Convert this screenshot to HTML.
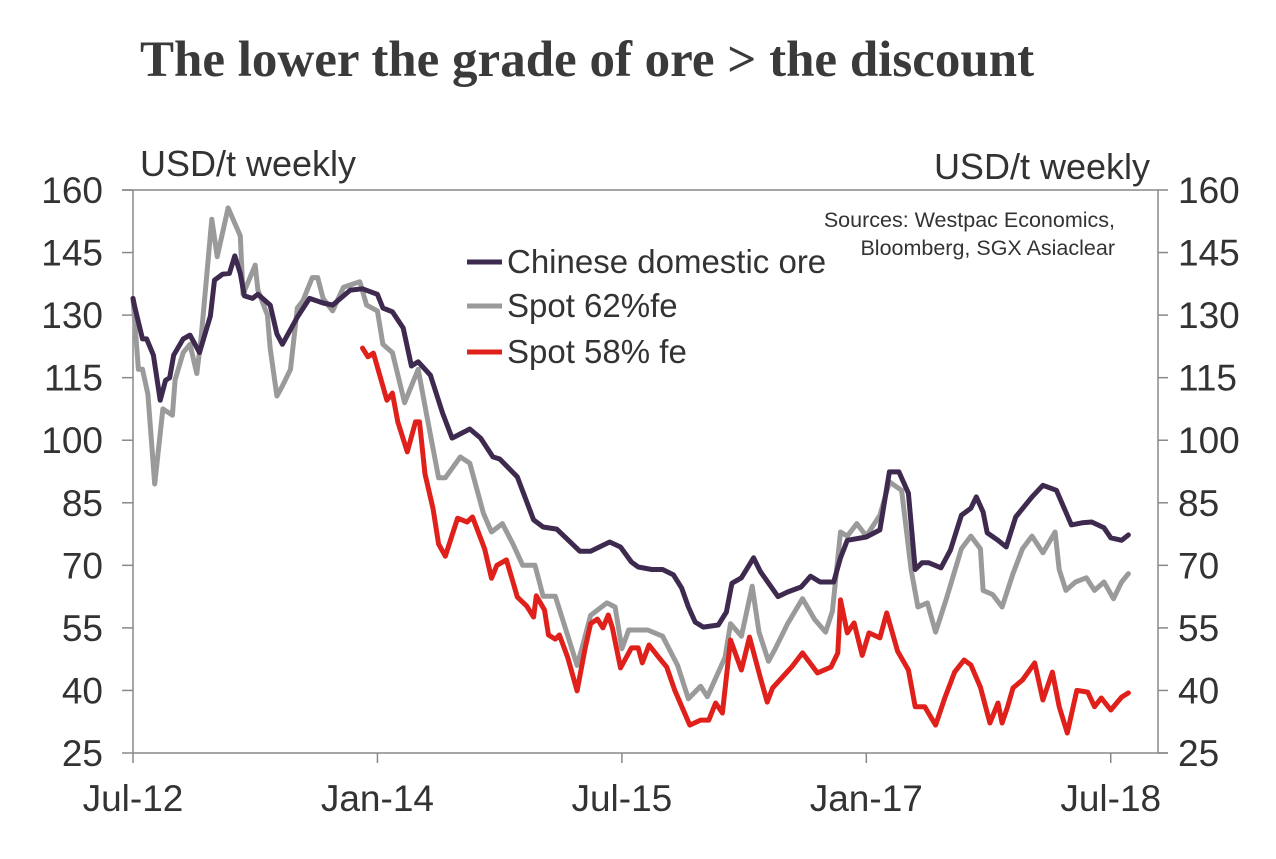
<!DOCTYPE html>
<html><head><meta charset="utf-8">
<style>
html,body{margin:0;padding:0;background:#fff;}
body{width:1276px;height:854px;overflow:hidden;}
svg text{font-family:"Liberation Sans",sans-serif;fill:#333;}
</style></head>
<body>
<svg id="chart" width="1276" height="854">
<text x="587" y="76" text-anchor="middle" style="font-family:'Liberation Serif',serif;font-weight:bold;font-size:51px;fill:#3a3a3a">The lower the grade of ore &gt; the discount</text>
<text x="140" y="176" style="font-size:36px">USD/t weekly</text>
<text x="1150" y="179" text-anchor="end" style="font-size:36px">USD/t weekly</text>
<text x="1115" y="227" text-anchor="end" style="font-size:21.5px">Sources: Westpac Economics,</text>
<text x="1115" y="255" text-anchor="end" style="font-size:21.5px">Bloomberg, SGX Asiaclear</text>
<g id="axes"></g>
<g id="series"></g>
<g>
 <g><line x1="467" y1="262" x2="502" y2="262" stroke="#3f2a4f" stroke-width="5"/><text x="507" y="273" style="font-size:33px">Chinese domestic ore</text></g>
 <g><line x1="467" y1="306" x2="502" y2="306" stroke="#9a9a9a" stroke-width="5"/><text x="507" y="317" style="font-size:33px">Spot 62%fe</text></g>
 <g><line x1="467" y1="352" x2="502" y2="352" stroke="#e0201b" stroke-width="5"/><text x="507" y="363" style="font-size:33px">Spot 58% fe</text></g>
</g>
</svg>
<script>
// months since Jul-2012 and values (USD/t)
const yTicks=[25,40,55,70,85,100,115,130,145,160];
const xTickLabels=["Jul-12","Jan-14","Jul-15","Jan-17","Jul-18"];
const xTickMonths=[0,18,36,54,72];
const chinaT=[0,0.15,0.7,1.0,1.5,2.0,2.4,2.7,3.0,3.7,4.2,4.9,5.7,6.0,6.6,7.1,7.5,7.9,8.2,8.8,9.2,10.1,10.6,11.0,11.3,12.1,13.0,14.0,14.7,16.0,16.9,18.0,18.4,19.1,19.9,20.5,21.0,21.9,22.8,23.5,24.8,25.6,26.5,27.0,28.3,29.5,30.2,31.2,32.9,33.7,35.1,35.9,36.7,37.2,38.2,39.0,39.8,40.4,40.9,41.4,42.0,43.1,43.7,44.1,44.8,45.7,46.2,47.5,48.2,49.2,49.9,50.6,51.6,52.1,52.6,54.0,55.0,55.7,56.4,57.1,57.6,58.1,58.6,59.5,60.2,61.0,61.7,62.1,62.6,62.9,63.7,64.3,65.0,66.2,67.0,68.0,69.1,69.9,70.6,71.5,72.0,72.8,73.3];
const chinaV=[134,131.7,124.3,124.3,120.4,109.6,114.4,115,120.4,124.3,125.2,121,129.8,138.4,139.8,140,144.2,140,134.6,134,135,132.4,125.5,123,124.8,129.5,134,132.9,132.4,136,136.3,135,131.7,130.8,126.9,117.8,118.8,115.6,106.5,100.5,102.7,100.5,96,95.5,91.2,80.9,79.2,78.7,73.4,73.4,75.6,74.4,70.8,69.6,69,69,67.7,64.6,60,56.4,55.2,55.7,58.8,65.7,67,71.8,68.5,62.5,63.6,64.8,67.4,66,66,71.8,76,76.8,78.5,92.4,92.4,87.3,69,70.6,70.6,69.4,73.7,82,83.7,86.4,82.8,77.8,76,74.4,81.6,86.4,89.2,88,79.7,80.2,80.4,79,76.6,76,77.3];
const spot62T=[0,0.4,0.7,1.1,1.6,2.2,2.9,3.1,3.7,4.2,4.7,5.0,5.8,6.2,7.0,7.9,8.1,9.0,9.2,9.9,10.1,10.6,11.0,11.6,12.1,12.5,13.2,13.6,14.0,14.7,15.5,16.7,17.2,18.0,18.4,19.1,20.0,21.0,21.6,22.5,23.0,24.1,24.8,25.8,26.4,27.2,28.0,28.7,29.6,30.2,31.1,32.7,33.1,33.7,34.9,35.5,36.0,36.5,37.2,37.9,39.0,40.1,40.9,41.8,42.3,43.6,44.0,44.8,45.6,46.1,46.8,47.3,48.2,49.3,50.2,51.0,51.5,52.1,52.6,53.3,54.0,55.0,55.7,56.6,57.3,57.8,58.5,59.1,59.9,61.0,61.7,62.4,62.6,63.3,64.0,64.8,65.5,66.2,67.0,67.9,68.2,68.7,69.4,70.2,70.8,71.5,72.2,72.8,73.3];
const spot62V=[134,117,117,111,89.5,107.5,106,114.5,121,123,116,124,153,144,155.7,149,135,142,136,130,122,110.6,113,117,131.7,133.4,139,139,134,131,136.7,138,132.4,131,123,121,109,117,106.5,91,91,96,94.5,82.5,78,80,75,70,70,62.6,62.6,46,50.6,58,61,60,50,54.5,54.5,54.5,53,46,38,41,38.5,48,56,53,65,54,47,50,56,62,57,54,59,78,77,80,77,82,90,88,69,60,61,54,62,74,77,74,64,63,60,68,74,77,73,78,69,64,66,67,64,66,62,66,68];
const spot58T=[16.9,17.3,17.7,18.7,19.1,19.5,20.2,20.8,21.1,21.5,22.1,22.5,23.0,23.9,24.6,25.0,25.6,25.9,26.4,26.8,27.5,27.9,28.3,29.0,29.5,29.7,30.3,30.6,31.1,31.4,32.0,32.7,33.3,33.7,34.2,34.6,35.0,35.3,35.9,36.7,37.2,37.5,38.0,38.7,39.3,39.9,41.0,41.8,42.4,42.9,43.4,44.0,44.8,45.4,46.2,46.7,47.1,48.5,49.3,50.4,51.4,51.9,52.1,52.6,53.1,53.7,54.2,55.0,55.5,56.3,57.1,57.6,58.3,59.1,59.8,60.5,61.2,61.7,62.4,63.1,63.7,64.0,64.4,64.8,65.5,66.4,67.0,67.7,68.2,68.8,69.5,70.3,70.8,71.3,72.0,72.8,73.3];
const spot58V=[122.1,120,120.9,109.6,111.3,104.4,97.2,104.4,104.4,91.9,83.5,75.1,72.2,81.3,80.4,81.6,76.5,73.9,66.9,70,71.3,66.9,62.4,60.2,57.6,62.7,59.3,53.3,52.3,53.3,48,39.9,50.2,56,57.1,55,58.1,55,45.4,50.2,50.2,46.6,50.9,48,45.6,40,31.7,32.9,32.9,37,34.6,52.1,44.9,52.8,43,37.2,40.6,45.6,49,44.2,45.6,49,61.7,53.8,56.2,48.4,53.8,52.6,58.6,49.4,44.9,36.1,36.1,31.7,38.4,44.4,47.3,46.1,40.8,32.2,37,32.2,36.1,40.6,42.5,46.6,37.7,44.4,36.1,29.8,40,39.6,36.1,38.2,35.3,38.4,39.4];

const X0=133, PX_PER_MONTH=13.58, XR=1158, YT=190, YB=753;
const xs=m=>X0+m*PX_PER_MONTH;
const ys=v=>YB-(v-25)/(160-25)*(YB-YT);
const NS="http://www.w3.org/2000/svg";
const axes=document.getElementById('axes');
function mk(tag,attrs,parent){const e=document.createElementNS(NS,tag);for(const k in attrs)e.setAttribute(k,attrs[k]);parent.appendChild(e);return e;}
const frame=mk('path',{d:`M${X0} ${YB}V${YT}H${XR}V${YB}H${X0}M122 ${YT}H${X0}M${XR} ${YB}H1168`,fill:'none',stroke:'#888','stroke-width':1.5},axes);


yTicks.forEach(v=>{
  const y=ys(v);
  const t=mk('line',{x1:122,x2:X0,y1:y,y2:y,stroke:'#888','stroke-width':1.5},axes);
  
  
  const t2=mk('line',{x1:XR,x2:1168,y1:y,y2:y,stroke:'#888','stroke-width':1.5},axes);
  
  
  const l=mk('text',{x:103,y:y+13,'text-anchor':'end',style:'font-size:37px'},axes);
  l.textContent=v;
  
  
  const r=mk('text',{x:1178,y:y+13,style:'font-size:37px'},axes);
  r.textContent=v;
  
  
});
xTickMonths.forEach((m,i)=>{
  const x=xs(m);
  const t=mk('line',{x1:x,x2:x,y1:YB,y2:763,stroke:'#888','stroke-width':1.5},axes);
  
  
  const l=mk('text',{x:x,y:811,'text-anchor':'middle',style:'font-size:37px'},axes);
  l.textContent=xTickLabels[i];
  
  
});
const ser=document.getElementById('series');
function line(T,V,color,name){
  const d=T.map((m,i)=>(i?'L':'M')+xs(m).toFixed(1)+' '+ys(V[i]).toFixed(1)).join('');
  const p=mk('path',{d:d,fill:'none',stroke:color,'stroke-width':5,'stroke-linejoin':'round','stroke-linecap':'round'},ser);
  
  
}
line(spot62T,spot62V,'#9a9a9a','spot-62-line');
line(chinaT,chinaV,'#3f2a4f','chinese-domestic-line');
line(spot58T,spot58V,'#e0201b','spot-58-line');
</script>
</body></html>
